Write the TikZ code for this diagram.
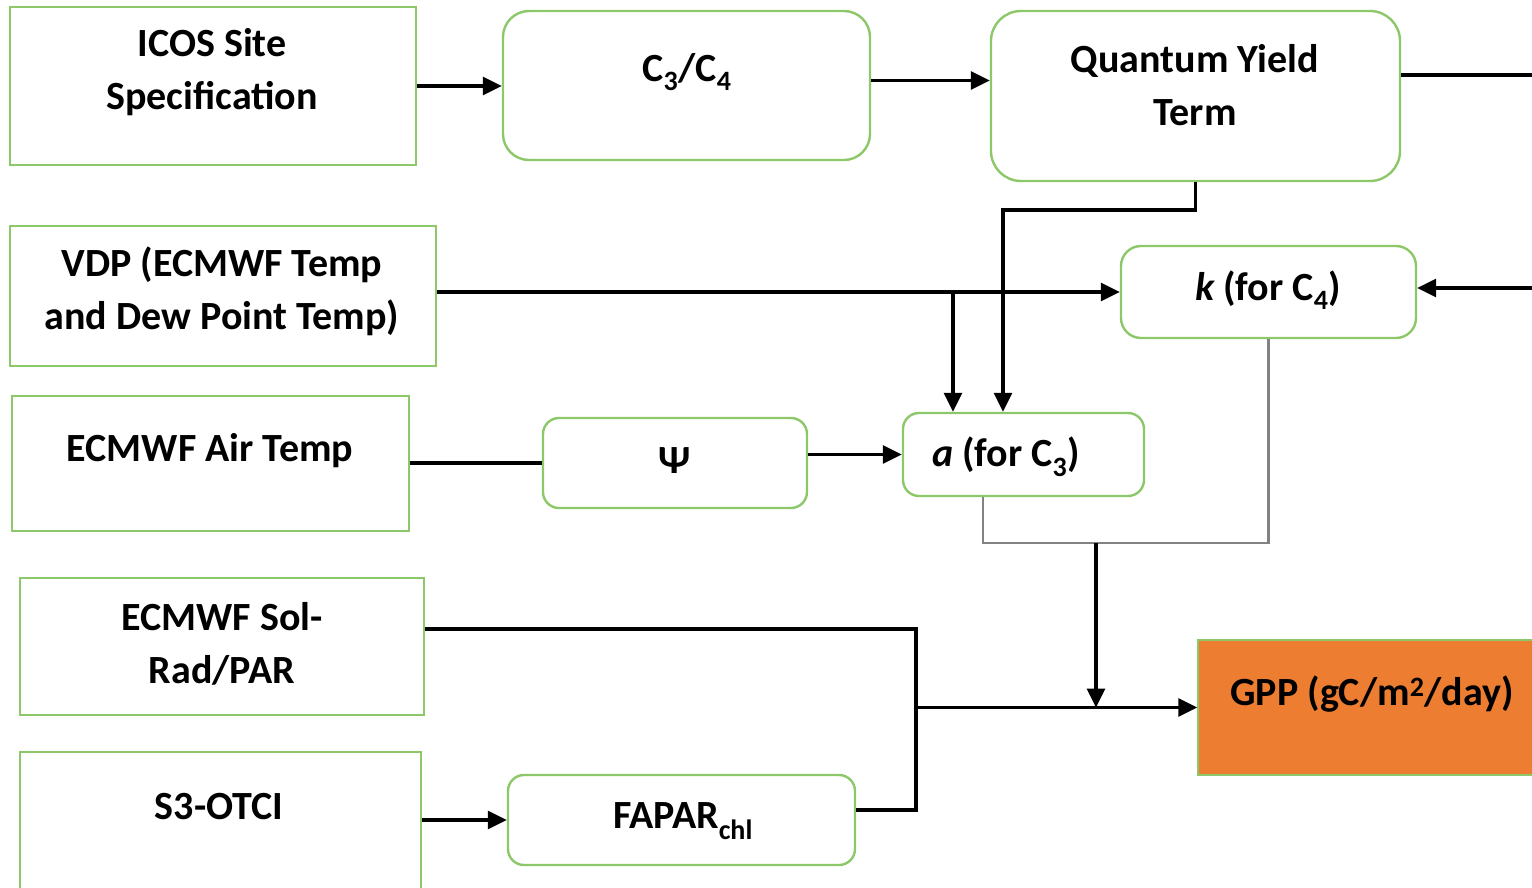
\documentclass[tikz,border=0pt]{standalone}
\usepackage{fontspec}
\setmainfont{Carlito}
\usetikzlibrary{arrows.meta,calc}
\definecolor{boxgreen}{RGB}{140,200,105}
\definecolor{gppfill}{RGB}{237,125,49}
\definecolor{lgray}{RGB}{130,130,130}
\tikzset{
  plainbox/.style={draw=boxgreen,line width=2.4pt,rectangle,inner sep=0pt},
  roundbox/.style={plainbox,rounded corners=#1},
  lbl/.style={font=\fontsize{40}{53}\selectfont\bfseries,align=center,inner sep=0pt},
  conn/.style={line width=3.2pt,black},
  arr/.style={conn,-{Triangle[length=19pt,width=18pt]}},
  grayline/.style={line width=2.2pt,lgray},
}
\begin{document}
\begin{tikzpicture}[x=1pt,y=-1pt]
\useasboundingbox (0,0) rectangle (1532,888);
\clip (0,0) rectangle (1532,888);
% boxes
\node[plainbox,minimum width=406pt,minimum height=158pt] (icos) at (213,86) {};
\node[roundbox=26pt,minimum width=367pt,minimum height=149pt] (c34) at (686.5,85.5) {};
\node[roundbox=30pt,minimum width=409pt,minimum height=170pt] (qy) at (1195.5,96) {};
\node[plainbox,minimum width=426pt,minimum height=140pt] (vdp) at (223,296) {};
\node[roundbox=20pt,minimum width=295pt,minimum height=92pt] (k) at (1268.5,292) {};
\node[plainbox,minimum width=397pt,minimum height=135pt] (air) at (210.5,463.5) {};
\node[roundbox=16pt,minimum width=264pt,minimum height=90pt] (psi) at (675,463) {};
\node[roundbox=16pt,minimum width=241pt,minimum height=83pt] (a) at (1023.5,454.5) {};
\node[plainbox,minimum width=404pt,minimum height=137pt] (sol) at (222,646.5) {};
\node[plainbox,minimum width=401pt,minimum height=160pt] (s3) at (220.5,832) {};
\node[roundbox=16pt,minimum width=347pt,minimum height=90pt] (fapar) at (681.5,820) {};
\node[plainbox,fill=gppfill,line width=1.5pt,minimum width=360pt,minimum height=135pt] (gpp) at (1378,707.5) {};
% labels
\node[lbl] (ticos) at (212,72.5) {ICOS Site\\Specification};
\node[lbl] (tc34) at (687,72) {C\textsubscript{3}/C\textsubscript{4}};
\node[lbl] (tqy) at (1195,85) {Quantum Yield\\Term};
\node[lbl] (tvdp) at (222,291.5) {VDP (ECMWF Temp\\and Dew Point Temp)};
\node[lbl] (tk) at (1268,290) {\itshape k\upshape{} (for C\textsubscript{4})};
\node[lbl] (tair) at (210,451) {ECMWF Air Temp};
\node[lbl] (tpsi) at (675,461) {Ψ};
\node[lbl] (ta) at (1006,457) {\itshape a\upshape{} (for C\textsubscript{3})};
\node[lbl] (tsol) at (222,644) {ECMWF Sol-\\Rad/PAR};
\node[lbl] (ts3) at (219,807) {S3-OTCI};
\node[lbl] (tfapar) at (683,821) {FAPAR\textsubscript{chl}};
\node[lbl] (tgpp) at (1372,694) {GPP (gC/m\textsuperscript{2}/day)};
% junction coordinates
\coordinate (qyout) at (1532,75);
\coordinate (kin) at (1532,288);
\coordinate (j1) at (953,292);
\coordinate (j2) at (1003,210);
\coordinate (j3) at (1096,543);
\coordinate (j5) at (916,629);
% connectors
\draw[arr] (icos.east) -- (icos.east -| c34.west);
\draw[arr] ([yshift=5pt]c34.east) -- ([yshift=5pt]c34.east -| qy.west);
\draw[conn] ([yshift=21pt]qy.east) -- (qyout);
\draw[arr] (k.west -| vdp.east) -- (k.west);
\draw[arr] (j1) -- (j1 |- a.north);
\draw[arr] (qy.south) |- (j2) -- (j2 |- a.north);
\draw[arr] (kin) -- (kin -| k.east);
\draw[conn] (psi.west -| air.east) -- (psi.west);
\draw[arr] (a.west -| psi.east) -- (a.west);
\draw[grayline] ([xshift=-40.5pt]a.south) |- (j3) -| (k.south);
\draw[arr] (j3) -- (j3 |- gpp.west);
\draw[conn] (j5 -| sol.east) -- (j5) |- ([yshift=10pt]fapar.east);
\draw[arr] (j5 |- gpp.west) -- (gpp.west);
\draw[arr] (fapar.west -| s3.east) -- (fapar.west);
\end{tikzpicture}
\end{document}
